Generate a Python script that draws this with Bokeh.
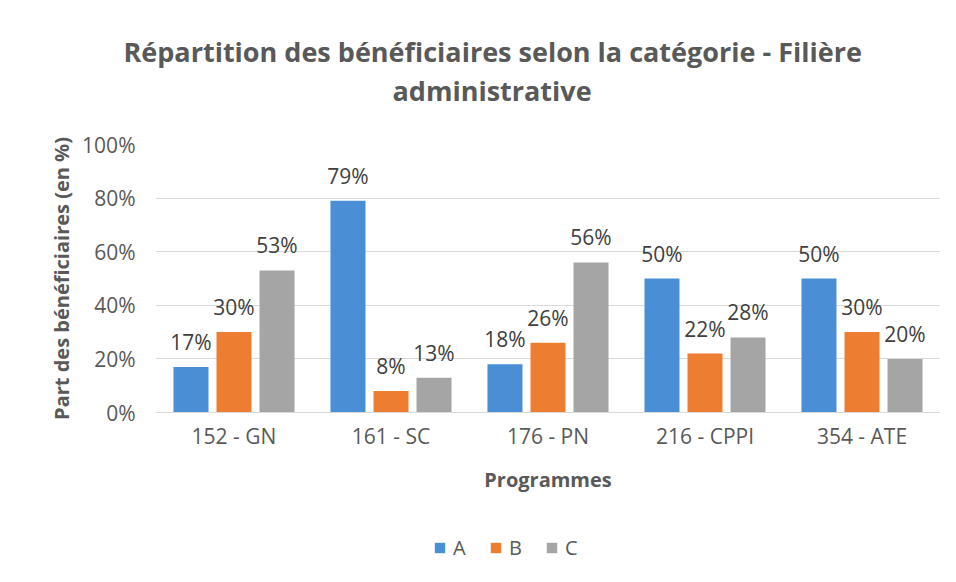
from bokeh.plotting import figure
from bokeh.layouts import column
from bokeh.models import ColumnDataSource, LabelSet, Legend, LegendItem, FactorRange, NumeralTickFormatter, Title
from bokeh.core.properties import value
from bokeh.transform import dodge
from bokeh.embed import file_html
from bokeh.resources import INLINE

programmes = ["152 - GN", "161 - SC", "176 - PN", "216 - CPPI", "354 - ATE"]
series_names = ["A", "B", "C"]
vals_A = [0.17, 0.79, 0.18, 0.50, 0.50]
vals_B = [0.30, 0.08, 0.26, 0.22, 0.30]
vals_C = [0.53, 0.13, 0.56, 0.28, 0.20]
colors = ["#4a8fd6", "#ed7d31", "#a5a5a5"]
y_ticks = [0, 0.2, 0.4, 0.6, 0.8, 1.0]
title_lines = ["Répartition des bénéficiaires selon la catégorie - Filière", "administrative"]

FONT = "Open Sans"
TXT = "#595959"

src = ColumnDataSource(dict(
    prog=programmes, A=vals_A, B=vals_B, C=vals_C,
    lA=[f"{round(v*100)}%" for v in vals_A],
    lB=[f"{round(v*100)}%" for v in vals_B],
    lC=[f"{round(v*100)}%" for v in vals_C],
))

# ---- title strip: two title lines stacked in the top panel
hf = figure(width=940, height=120, output_backend="svg", toolbar_location=None, title=None,
            min_border_left=0, min_border_right=0, min_border_bottom=0, min_border_top=108,
            x_range=(0, 1), y_range=(0, 1))
hf.axis.visible = False
hf.grid.grid_line_color = None
hf.outline_line_color = None
hf.add_layout(Title(text=title_lines[1], align="left", offset=237, standoff=0, text_font=FONT,
                    text_font_size="27px", text_font_style="bold", text_color=TXT), "above")
hf.add_layout(Title(text=title_lines[0], align="left", offset=-32, standoff=0, text_font=FONT,
                    text_font_size="27px", text_font_style="bold", text_color=TXT), "above")

# ---- main chart
p = figure(x_range=FactorRange(factors=programmes), y_range=(0, 1.0), title=None,
           width=940, height=390, output_backend="svg", toolbar_location=None,
           min_border_left=155, min_border_right=0, min_border_top=24, min_border_bottom=98)

offsets = [-0.274, 0.0, 0.274]
for name, off, col in zip(series_names, offsets, colors):
    p.vbar(x=dodge("prog", off, range=p.x_range), top=name, width=0.223, source=src,
           fill_color=col, line_color=None)
    lbl = LabelSet(x=dodge("prog", off, range=p.x_range), y=name, text="l" + name, source=src,
                   text_align="center", text_baseline="bottom", y_offset=11,
                   text_font=value(FONT), text_font_size="21px", text_color="#404040")
    p.add_layout(lbl)

p.yaxis.ticker = y_ticks
p.yaxis.formatter = NumeralTickFormatter(format="0%")
p.yaxis.axis_label = "Part des bénéficiaires (en %)"
p.xaxis.axis_label = "Programmes"
for ax in (p.xaxis, p.yaxis):
    ax.axis_label_text_font = FONT
    ax.axis_label_text_font_size = "20px"
    ax.axis_label_text_font_style = "bold"
    ax.axis_label_text_color = TXT
    ax.major_label_text_font = FONT
    ax.major_label_text_font_size = "21px"
    ax.major_label_text_color = TXT
    ax.major_tick_line_color = None
    ax.minor_tick_line_color = None
p.yaxis.axis_line_color = None
p.xaxis.axis_line_color = "#d9d9d9"
p.yaxis.major_label_standoff = 14
p.yaxis.axis_label_standoff = 4
p.xaxis.major_label_standoff = 3
p.xaxis.axis_label_standoff = 13
p.xgrid.grid_line_color = None
p.ygrid.grid_line_color = "#d9d9d9"
p.outline_line_color = None

# ---- legend strip under the chart
lf = figure(width=940, height=56, output_backend="svg", toolbar_location=None,
            min_border=0, x_range=FactorRange(factors=programmes), y_range=(0, 1))
lf.axis.visible = False
lf.grid.grid_line_color = None
lf.outline_line_color = None
items = []
for name, col in zip(series_names, colors):
    r = lf.vbar(x="prog", top=name, width=0.2, source=src, fill_color=col, line_color=None,
                visible=False)
    items.append(LegendItem(label=name, renderers=[r]))
legend = Legend(items=items, orientation="horizontal", location=(278, 5),
                label_text_font=FONT, label_text_font_size="20px", label_text_color=TXT,
                glyph_width=13, glyph_height=13, spacing=16, label_standoff=7,
                border_line_color=None, background_fill_alpha=0, margin=0, padding=0)
lf.add_layout(legend)

open("out.html", "w").write(file_html(column(hf, p, lf, spacing=0), INLINE))
